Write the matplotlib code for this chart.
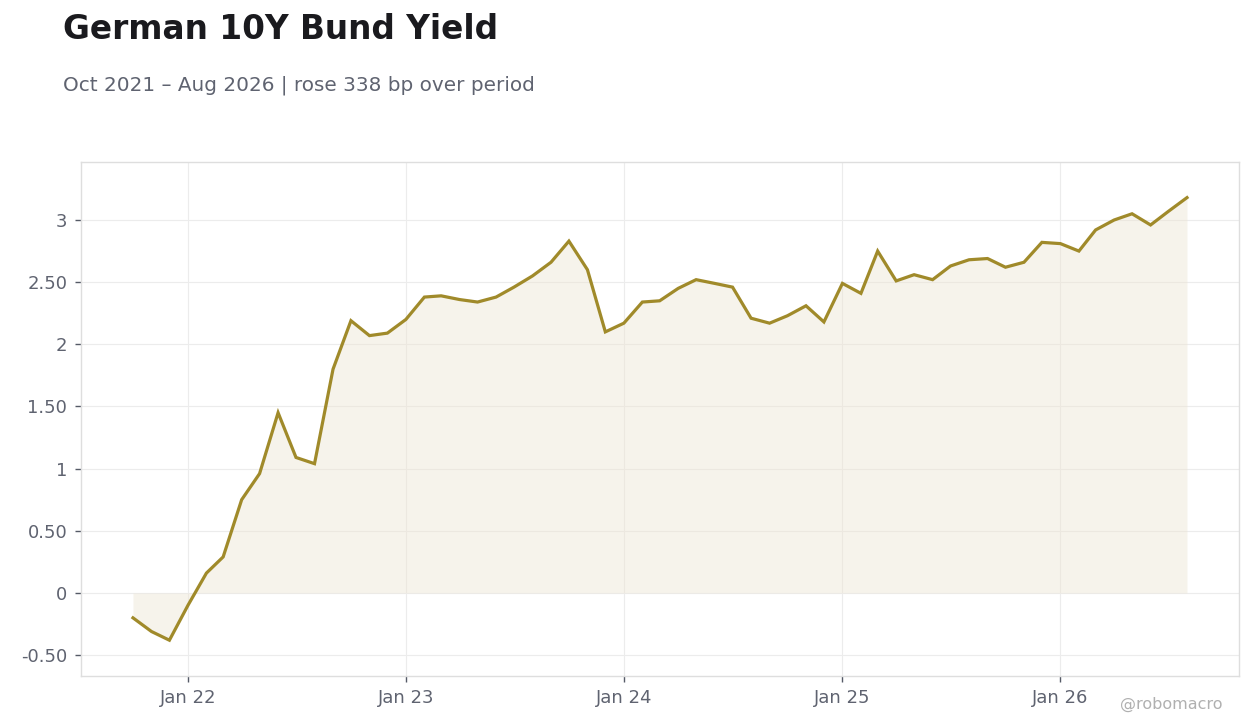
import numpy as np
import pandas as pd
import matplotlib
matplotlib.use("Agg")
import matplotlib.pyplot as plt
import matplotlib.dates as mdates

# monthly 10Y Bund yield, %
dates = pd.date_range("2021-10-01", "2026-08-01", freq="MS")
yields = [
    -0.20, -0.31, -0.38,
    -0.10, 0.16, 0.29, 0.75, 0.96, 1.45, 1.09, 1.04, 1.80, 2.19, 2.07, 2.09,
    2.20, 2.38, 2.39, 2.36, 2.34, 2.38, 2.46, 2.55, 2.66, 2.83, 2.60, 2.10,
    2.17, 2.34, 2.35, 2.45, 2.52, 2.49, 2.46, 2.21, 2.17, 2.23, 2.31, 2.18,
    2.49, 2.41, 2.75, 2.51, 2.56, 2.52, 2.63, 2.68, 2.69, 2.62, 2.66, 2.82,
    2.81, 2.75, 2.92, 3.00, 3.05, 2.96, 3.07, 3.18,
]
yticks = [-0.5, 0, 0.5, 1, 1.5, 2, 2.5, 3]
ytick_labels = ["-0.50", "0", "0.50", "1", "1.50", "2", "2.50", "3"]
xticks = pd.to_datetime(["2022-01-01", "2023-01-01", "2024-01-01", "2025-01-01", "2026-01-01"])
xtick_labels = ["Jan 22", "Jan 23", "Jan 24", "Jan 25", "Jan 26"]

line_col = "#a08a2a"
text_col = "#5f6370"

fig = plt.figure(figsize=(12.6, 7.28), dpi=100)
ax = fig.add_axes([0.0643, 0.0714, 0.919, 0.706])

ax.fill_between(dates, yields, 0, color="#ede5d3", alpha=0.45, lw=0)
ax.plot(dates, yields, color=line_col, lw=2.3, solid_joinstyle="miter")

ax.set_ylim(-0.668, 3.466)
ax.set_xlim(pd.Timestamp("2021-07-06"), pd.Timestamp("2026-10-27"))
ax.set_yticks(yticks)
ax.set_yticklabels(ytick_labels)
ax.set_xticks(xticks)
ax.set_xticklabels(xtick_labels)

ax.grid(True, color="#ececec", lw=0.8)
ax.set_axisbelow(True)
for s in ax.spines.values():
    s.set_color("#dedede")
    s.set_linewidth(1)
ax.tick_params(axis="both", colors="#555a66", labelcolor=text_col, labelsize=13, length=4, width=1)
ax.tick_params(axis="x", pad=5)
ax.tick_params(axis="y", pad=6)

fig.text(0.05, 0.96, "German 10Y Bund Yield", fontsize=23.6, fontweight="bold",
         color="#1a1a1e", va="center", ha="left")
fig.text(0.05, 0.883, "Oct 2021 \u2013 Aug 2026 | rose 338 bp over period", fontsize=14.4,
         color=text_col, va="center", ha="left")
fig.text(0.97, 0.032, "@robomacro", fontsize=11.5, color="#b0b0b0", ha="right", va="center")

fig.savefig("out.png", dpi=100, facecolor="white")
